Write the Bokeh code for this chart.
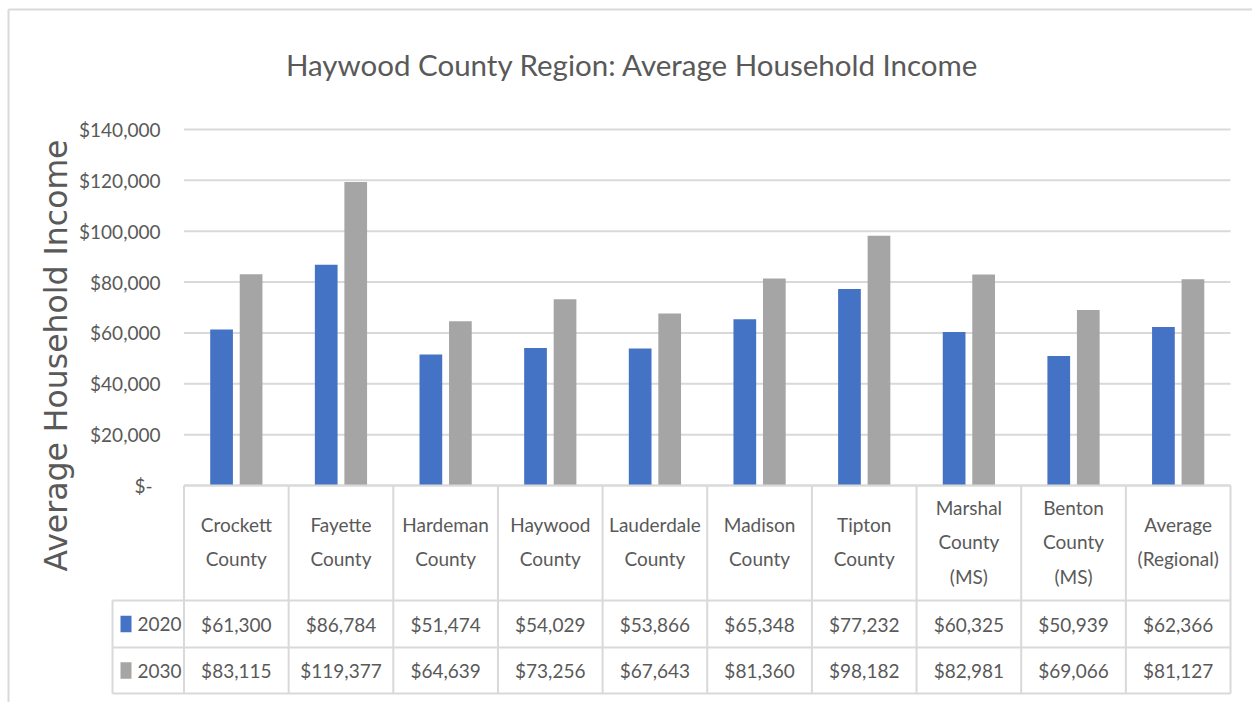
import numpy as np
from bokeh.plotting import figure
from bokeh.models import Range1d, ColumnDataSource
from bokeh.core.properties import value
from bokeh.embed import file_html
from bokeh.resources import INLINE

# ---------------- data ----------------
chart_title = "Haywood County Region: Average Household Income"
y_title = "Average Household Income"
categories = ["Crockett County", "Fayette County", "Hardeman County", "Haywood County",
              "Lauderdale County", "Madison County", "Tipton County", "Marshal County (MS)",
              "Benton County (MS)", "Average (Regional)"]
series_names = ["2020", "2030"]
values_2020 = [61300, 86784, 51474, 54029, 53866, 65348, 77232, 60325, 50939, 62366]
values_2030 = [83115, 119377, 64639, 73256, 67643, 81360, 98182, 82981, 69066, 81127]
y_ticks = [0, 20000, 40000, 60000, 80000, 100000, 120000, 140000]
y_tick_labels = ["$-", "$20,000", "$40,000", "$60,000", "$80,000", "$100,000", "$120,000", "$140,000"]

# ---------------- layout (page pixels) ----------------
W, H = 1252, 702
OFF = 0
PLOT_L, PLOT_R = 183.5, 1230.0
CW = (PLOT_R - PLOT_L) / len(categories)
ZERO_Y, TOP_Y, Y_MAX = 485.0, 129.0, 140000.0
ROW1, ROW2, ROW3 = 600.0, 647.0, 693.0
LEG_L = 112.0
GRID = "#d9d9d9"
TXT = "#595959"
BLUE, GRAY = "#4472C4", "#A5A5A5"
FONT = "Lato"
FS = "19px"


def ux(sx):
    return (sx - PLOT_L) / CW - 0.5


def vy(sy):
    return (ZERO_Y - sy) * Y_MAX / (ZERO_Y - TOP_Y)


PXY = Y_MAX / (ZERO_Y - TOP_Y)

p = figure(width=W, height=H, output_backend="svg", toolbar_location=None,
           x_range=Range1d(ux(OFF), ux(OFF + W)), y_range=Range1d(vy(OFF + H), vy(OFF)),
           min_border=0, outline_line_color=None, background_fill_color="white")
p.axis.visible = False
p.grid.visible = False

n = len(categories)
idx = np.arange(n)
x0, x1 = ux(PLOT_L), ux(PLOT_R)

# chart area border (top + left)
p.segment(x0=[ux(8), ux(8)], y0=[vy(9), vy(9)], x1=[ux(OFF + W), ux(8)], y1=[vy(9), vy(OFF + H)],
          line_color=GRID, line_width=2)

# gridlines
p.segment(x0=[x0] * len(y_ticks), y0=y_ticks, x1=[x1] * len(y_ticks), y1=y_ticks,
          line_color=GRID, line_width=2)

# bars
bw = 0.217
off = 0.141
p.vbar(x=idx - off, top=values_2020, bottom=0, width=bw, fill_color=BLUE, line_color=None)
p.vbar(x=idx + off, top=values_2030, bottom=0, width=bw, fill_color=GRAY, line_color=None)

# y tick labels
tick_src = ColumnDataSource(dict(
    x=[ux(160)] * len(y_ticks), y=y_ticks, text=y_tick_labels,
    xo=[-8 if t == "$-" else 0 for t in y_tick_labels]))
p.text(x="x", y="y", text="text", x_offset="xo", source=tick_src, text_align="right",
       text_baseline="middle", text_font=value(FONT), text_font_size=FS, text_color=TXT)

# titles
p.text(x=[ux(632)], y=[vy(64)], text=[chart_title], text_align="center",
       text_baseline="middle", text_font=value(FONT), text_font_size="29.5px", text_color=TXT)
p.text(x=[ux(55)], y=[vy(355)], text=[y_title], angle=np.pi / 2, text_align="center",
       text_baseline="middle", text_font=value("DejaVu Sans"), text_font_size="31.5px",
       text_color=TXT)

# data table grid
hx = [x0, ux(LEG_L), ux(LEG_L), ux(LEG_L)]
hx1 = [x1] * 4
hy = [vy(ZERO_Y), vy(ROW1), vy(ROW2), vy(ROW3)]
p.segment(x0=hx, y0=hy, x1=hx1, y1=hy, line_color=GRID, line_width=2)
bx = list(np.arange(n + 1) - 0.5)
p.segment(x0=bx, y0=[vy(ZERO_Y)] * (n + 1), x1=bx, y1=[vy(ROW3)] * (n + 1),
          line_color=GRID, line_width=2)
p.segment(x0=[ux(LEG_L)], y0=[vy(ROW1)], x1=[ux(LEG_L)], y1=[vy(ROW3)],
          line_color=GRID, line_width=2)

# category header
p.text(x=idx, y=[vy(541)] * n, text=[c.replace(" ", "\n") for c in categories],
       text_align="center", text_baseline="middle", text_line_height=1.5,
       text_font=value(FONT), text_font_size=FS, text_color=TXT)

# rows
row_y = [vy((ROW1 + ROW2) / 2), vy((ROW2 + ROW3) / 2)]
for vals, yy, col, name in zip([values_2020, values_2030], row_y, [BLUE, GRAY], series_names):
    p.text(x=idx, y=[yy] * n, text=[f"${v:,}" for v in vals], text_align="center",
           text_baseline="middle", text_font=value(FONT), text_font_size=FS, text_color=TXT)
    p.quad(left=[ux(120)], right=[ux(131)], top=[yy + 8.3 * PXY],
           bottom=[yy - 8.3 * PXY], fill_color=col, line_color=None)
    p.text(x=[ux(137)], y=[yy], text=[name], text_align="left", text_baseline="middle",
           text_font=value(FONT), text_font_size=FS, text_color=TXT)

open("out.html", "w").write(file_html(p, INLINE))
